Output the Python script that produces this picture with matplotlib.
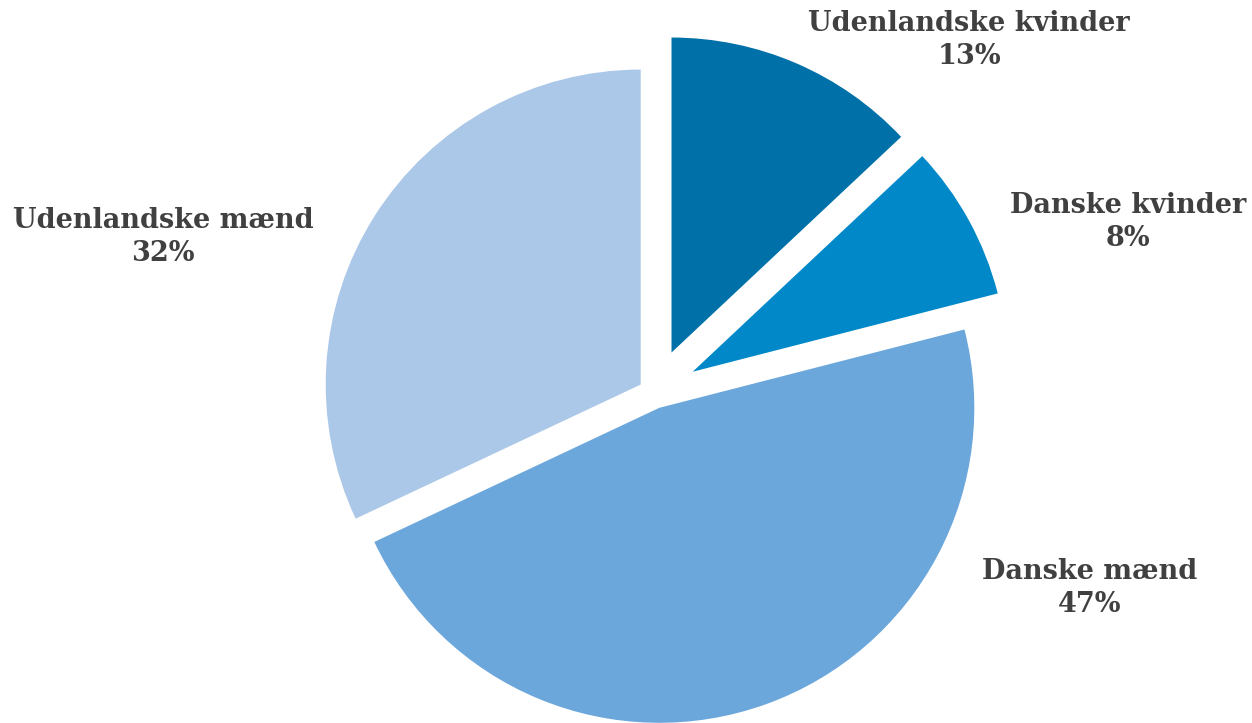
import matplotlib
matplotlib.use("Agg")
import matplotlib.pyplot as plt

# andele, medurs fra kl. 12
labels = ["Udenlandske kvinder", "Danske kvinder", "Danske mænd", "Udenlandske mænd"]
shares = [13, 8, 47, 32]
colors = ["#0070a8", "#0088c8", "#6ca7dc", "#acc8e8"]
explode = [0.14, 0.14, 0.05, 0.05]

# label positions (data units, radius = 1)
label_pos = [(1.0, 1.12), (1.505, 0.543), (1.384, -0.62), (-1.558, 0.495)]

fig = plt.figure(figsize=(12.52, 7.23), dpi=100)
ax = fig.add_axes([0, 0, 1, 1])

ax.pie(shares, colors=colors, explode=explode, startangle=90,
       counterclock=False, radius=1.0,
       wedgeprops=dict(linewidth=0), center=(0, 0))

for lab, val, (x, y) in zip(labels, shares, label_pos):
    ax.text(x, y, f"{lab}\n{val}%", ha="center", va="center",
            fontsize=19.5, fontweight="bold", family="DejaVu Serif",
            color="#404040", linespacing=1.3)

# pixel layout: centre at (654, 393), radius 315 px
ax.set_aspect("auto")
ax.set_xlim(-654 / 315, (1252 - 654) / 315)
ax.set_ylim(-(723 - 393) / 315, 393 / 315)
ax.axis("off")

fig.savefig("out.png", dpi=100)
